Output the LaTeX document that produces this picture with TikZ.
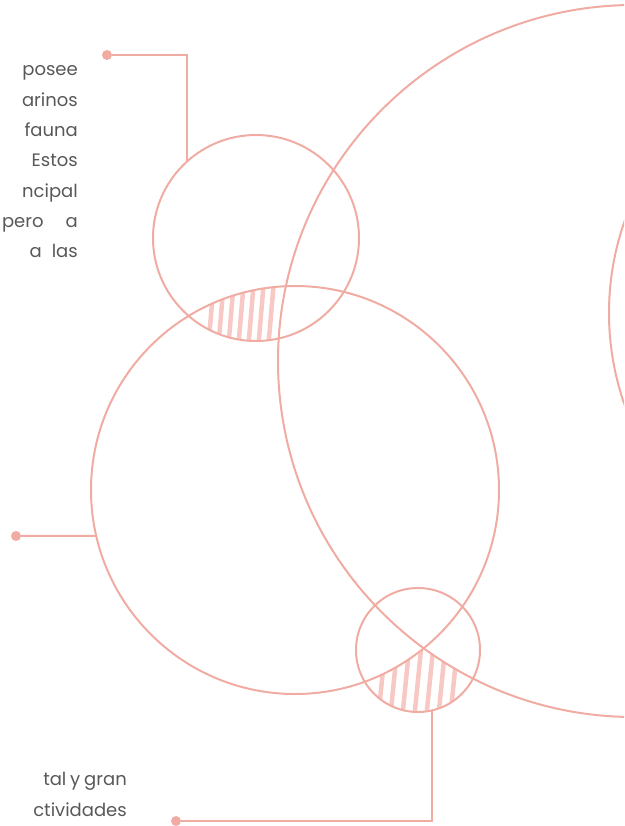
\documentclass[tikz,border=0pt]{standalone}
\usepackage{fontspec}
\setmainfont{Poppins}[WordSpace=0.8]
\usepackage{xcolor}
\usepackage{tikz}

\definecolor{ringpink}{RGB}{240,172,163}
\definecolor{hatchpink}{RGB}{247,200,196}
\definecolor{txtgray}{RGB}{88,88,88}

\begin{document}
\begin{tikzpicture}[x=1pt, y=-1pt,
		ring/.style={draw=ringpink, line width=2pt, circle, inner sep=0pt, outer sep=0pt},
		dot/.style={circle, fill=ringpink, minimum size=10pt, inner sep=0pt},
		wire/.style={draw=ringpink, line width=2pt},
		hatch/.style={draw=hatchpink, line width=4.5pt},
		para/.style={anchor=base east, inner sep=0pt, text=txtgray,
				font=\fontsize{18}{30}\selectfont}]

		\useasboundingbox (0,0) rectangle (624,826);
		\clip (0,0) rectangle (624,826);

		% ── hatched overlaps ──
		\begin{scope}
			\clip (256,238) circle (103pt);
			\clip (295,490) circle (204pt);
			\foreach \x in {211,221,...,271}
				\draw[hatch] (\x-3,350) -- (\x+3,280);
		\end{scope}
		\begin{scope}[even odd rule]
			\clip (418,650) circle (62pt);
			\clip (-20,-20) rectangle (700,900) (295,490) circle (204pt);
			\clip (-20,-20) rectangle (700,900) (634,361) circle (356pt);
			\foreach \x in {382,394,...,454}
				\draw[hatch] (\x-4,720) -- (\x+4,640);
		\end{scope}

		% ── circles ──
		\node[ring, minimum size=206pt] (upper) at (256,238) {};
		\node[ring, minimum size=408pt] (middle) at (295,490) {};
		\node[ring, minimum size=712pt] (huge) at (634,361) {};
		\node[ring, minimum size=124pt] (lower) at (418,650) {};
		\node[ring, minimum size=554pt] (rim) at (886,313) {};

		% ── leader lines ──
		\node[dot] (d1) at (107,55) {};
		\draw[wire] (d1) -| (upper.132);

		\node[dot] (d2) at (16,536) {};
		\draw[wire] (d2) -- (middle.193);

		\node[dot] (d3) at (176,821) {};
		\draw[wire] (d3) -| (lower.283);

		% ── text ──
		\foreach \t [count=\i from 0] in {posee, arinos, fauna, Estos, ncipal,
				{pero\hspace{22pt}a}, {a\hspace{10pt}las}}
			\node[para] (top\i) at (78,76+30.33*\i) {\t};

		\node[para] (low1) at (127,785) {tal y gran};
		\node[para] (low2) at (127,816) {ctividades};

	\end{tikzpicture}
\end{document}
